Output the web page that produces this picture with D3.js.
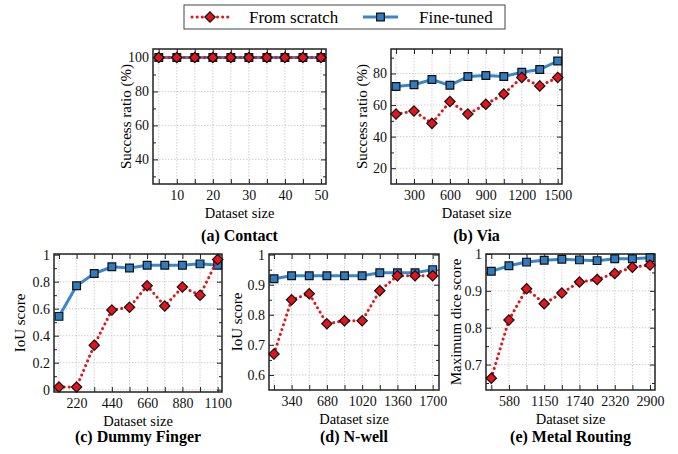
<!DOCTYPE html>
<html>
<head>
<meta charset="utf-8">
<script src="https://cdn.jsdelivr.net/npm/d3@7"></script>
<style>
  body { margin: 0; background: #fff; }
  svg, svg text { font-family: "Liberation Serif", "DejaVu Serif", serif; }
</style>
</head>
<body>
<svg id="chart" width="678" height="454"></svg>
<script>
/* ---------------- data ---------------- */

const contactSizes   = [5, 10, 15, 20, 25, 30, 35, 40, 45, 50];
const contactScratch = [100, 100, 100, 100, 100, 100, 100, 100, 100, 100];
const contactFine    = [100, 100, 100, 100, 100, 100, 100, 100, 100, 100];
const contactTicks   = ["10", "20", "30", "40", "50"];

const viaSizes   = [150, 300, 450, 600, 750, 900, 1050, 1200, 1350, 1500];
const viaScratch = [54.3, 56.2, 48.4, 62.2, 54.3, 60.5, 67.0, 77.5, 72.1, 77.5];
const viaFine    = [71.8, 72.9, 76.2, 72.5, 78.1, 78.7, 78.1, 80.8, 82.5, 87.9];
const viaTicks   = ["300", "600", "900", "1200", "1500"];

const dummySizes   = [110, 220, 330, 440, 550, 660, 770, 880, 990, 1100];
const dummyScratch = [0.02, 0.02, 0.33, 0.59, 0.61, 0.77, 0.62, 0.76, 0.70, 0.965];
const dummyFine    = [0.543, 0.77, 0.86, 0.91, 0.902, 0.922, 0.922, 0.922, 0.932, 0.922];
const dummyTicks   = ["220", "440", "660", "880", "1100"];

const nwellSizes   = [170, 340, 510, 680, 850, 1020, 1190, 1360, 1530, 1700];
const nwellScratch = [0.67, 0.85, 0.87, 0.77, 0.78, 0.78, 0.88, 0.93, 0.93, 0.93];
const nwellFine    = [0.92, 0.93, 0.93, 0.93, 0.93, 0.93, 0.94, 0.94, 0.94, 0.95];
const nwellTicks   = ["340", "680", "1020", "1360", "1700"];

const metalSizes   = [290, 580, 870, 1160, 1450, 1740, 2030, 2320, 2610, 2900];
const metalScratch = [0.663, 0.821, 0.906, 0.865, 0.894, 0.924, 0.931, 0.947, 0.964, 0.970];
const metalFine    = [0.953, 0.968, 0.978, 0.983, 0.986, 0.984, 0.982, 0.987, 0.987, 0.990];
const metalTicks   = ["580", "1150", "1740", "2320", "2900"];

const seriesNames = ["From scratch", "Fine-tuned"];

/* ---------------- layout ---------------- */

const FONT = "'Liberation Serif', 'DejaVu Serif', serif";
const RED = "#e3141c";
const BLUE = "#3a86c8";
const BLUE_FILL = "#2f7cc0";

const svg = d3.select("#chart").attr("font-family", FONT);

const panels = [
    { title: "(a) Contact", ylabel: "Success ratio (%)", sizes: contactSizes, scratch: contactScratch, fine: contactFine,
      labels: contactTicks, box: [153, 49, 173, 135], xd: [3.4, 51.4], yd: [25.5, 105],
      yMajor: [40, 60, 80, 100], yMinor: [30, 50, 70, 90], ylx: 126, titleY: 241 },
    { title: "(b) Via", ylabel: "Success ratio (%)", sizes: viaSizes, scratch: viaScratch, fine: viaFine,
      labels: viaTicks, box: [391, 49, 171, 135], xd: [108, 1536], yd: [10, 95.5],
      yMajor: [20, 40, 60, 80], yMinor: [30, 50, 70, 90], ylx: 362, titleY: 241 },
    { title: "(c) Dummy Finger", ylabel: "IoU score", sizes: dummySizes, scratch: dummyScratch, fine: dummyFine,
      labels: dummyTicks, box: [54, 254, 168, 138], xd: [79, 1127], yd: [-0.017, 1.005],
      yMajor: [0, 0.2, 0.4, 0.6, 0.8, 1], yMinor: [0.1, 0.3, 0.5, 0.7, 0.9], ylx: 20, titleY: 442 },
    { title: "(d) N-well", ylabel: "IoU score", sizes: nwellSizes, scratch: nwellScratch, fine: nwellFine,
      labels: nwellTicks, box: [269, 254, 170, 136], xd: [122, 1761], yd: [0.55, 1.002],
      yMajor: [0.6, 0.7, 0.8, 0.9, 1], yMinor: [0.65, 0.75, 0.85, 0.95], ylx: 237, titleY: 442 },
    { title: "(e) Metal Routing", ylabel: "Maximum dice score", sizes: metalSizes, scratch: metalScratch, fine: metalFine,
      labels: metalTicks, box: [486, 254, 169, 136], xd: [203, 2982], yd: [0.631, 1.0],
      yMajor: [0.7, 0.8, 0.9, 1], yMinor: [0.65, 0.75, 0.85, 0.95], ylx: 456, titleY: 442 }
];

const diamond = d3.symbol().type(d3.symbolDiamond2).size(68);
const square = d3.symbol().type(d3.symbolSquare).size(60);

panels.forEach(drawPanel);

function drawPanel(p) {
    const [bx, by, bw, bh] = p.box;
    const x = d3.scaleLinear().domain(p.xd).range([bx, bx + bw]);
    const y = d3.scaleLinear().domain(p.yd).range([by + bh, by]);
    const g = svg.append("g");

    // label text for each labelled x tick (label strings may differ from the tick value)
    const labelled = p.sizes.filter((s, i) => i % 2 === 1);
    const labelOf = new Map(labelled.map((v, i) => [v, p.labels[i]]));

    // grid
    g.append("g").selectAll("line").data(p.sizes).join("line")
        .attr("x1", d => x(d)).attr("x2", d => x(d))
        .attr("y1", by).attr("y2", by + bh)
        .attr("stroke", "#c4c4c4").attr("stroke-width", 0.8).attr("stroke-dasharray", "1.5,1.5");
    g.append("g").selectAll("line").data(p.yMajor).join("line")
        .attr("x1", bx).attr("x2", bx + bw)
        .attr("y1", d => y(d)).attr("y2", d => y(d))
        .attr("stroke", "#c4c4c4").attr("stroke-width", 0.8).attr("stroke-dasharray", "1.5,1.5");

    // axes, ticks pointing in on all four sides
    const fmt = d3.format("~g");
    const axes = [
        [d3.axisBottom(x).tickValues(p.sizes).tickSize(-5).tickPadding(6).tickFormat(d => labelOf.get(d) || ""), `translate(0,${by + bh})`],
        [d3.axisTop(x).tickValues(p.sizes).tickSize(-5).tickFormat(""), `translate(0,${by})`],
        [d3.axisLeft(y).tickValues(p.yMajor).tickSize(-5).tickPadding(4).tickFormat(fmt), `translate(${bx},0)`],
        [d3.axisRight(y).tickValues(p.yMajor).tickSize(-5).tickFormat(""), `translate(${bx + bw},0)`],
        [d3.axisLeft(y).tickValues(p.yMinor).tickSize(-3).tickFormat(""), `translate(${bx},0)`],
        [d3.axisRight(y).tickValues(p.yMinor).tickSize(-3).tickFormat(""), `translate(${bx + bw},0)`]
    ];
    axes.forEach(([ax, tr]) => {
        const a = g.append("g").attr("transform", tr).call(ax)
            .attr("font-family", FONT).attr("font-size", 14);
        a.select(".domain").remove();
        a.selectAll("line").attr("stroke", "#222").attr("stroke-width", 1);
        a.selectAll("text").attr("fill", "#111");
    });

    g.append("rect").attr("x", bx).attr("y", by).attr("width", bw).attr("height", bh)
        .attr("fill", "none").attr("stroke", "#222").attr("stroke-width", 1.5);

    // series
    const line = d3.line().x((d, i) => x(p.sizes[i])).y(d => y(d));

    g.append("path").datum(p.fine).attr("d", line)
        .attr("fill", "none").attr("stroke", BLUE).attr("stroke-width", 3);
    g.append("g").selectAll("path").data(p.fine).join("path")
        .attr("d", square)
        .attr("transform", (d, i) => `translate(${x(p.sizes[i])},${y(d)})`)
        .attr("fill", BLUE_FILL).attr("stroke", "#111").attr("stroke-width", 1.2);

    g.append("path").datum(p.scratch).attr("d", line)
        .attr("fill", "none").attr("stroke", RED).attr("stroke-width", 3)
        .attr("stroke-dasharray", "0.1,5").attr("stroke-linecap", "round");
    g.append("g").selectAll("path").data(p.scratch).join("path")
        .attr("d", diamond)
        .attr("transform", (d, i) => `translate(${x(p.sizes[i])},${y(d)})`)
        .attr("fill", RED).attr("stroke", "#111").attr("stroke-width", 1.2);

    // labels
    g.append("text").attr("x", bx + bw / 2).attr("y", by + bh + 34)
        .attr("text-anchor", "middle").attr("font-size", 14.5).text("Dataset size");
    g.append("text")
        .attr("transform", `translate(${p.ylx},${by + bh / 2}) rotate(-90)`)
        .attr("text-anchor", "middle").attr("dy", "0.35em").attr("font-size", 15).text(p.ylabel);
    g.append("text").attr("x", bx + bw / 2).attr("y", p.titleY)
        .attr("text-anchor", "middle").attr("font-size", 16).attr("font-weight", "bold").text(p.title);
}

/* ---------------- legend ---------------- */

const legend = svg.append("g");
legend.append("rect").attr("x", 184).attr("y", 5).attr("width", 321).attr("height", 24)
    .attr("fill", "#fff").attr("stroke", "#444").attr("stroke-width", 1);

const legendItems = [
    { name: seriesNames[0], x0: 192, x1: 228, tx: 249, color: RED, dash: "0.1,5", sym: diamond, fill: RED },
    { name: seriesNames[1], x0: 363, x1: 398, tx: 419, color: BLUE, dash: null, sym: square, fill: BLUE_FILL }
];
legendItems.forEach(it => {
    legend.append("line").attr("x1", it.x0).attr("x2", it.x1).attr("y1", 17).attr("y2", 17)
        .attr("stroke", it.color).attr("stroke-width", 3)
        .attr("stroke-dasharray", it.dash).attr("stroke-linecap", it.dash ? "round" : "butt");
    legend.append("path").attr("d", it.sym)
        .attr("transform", `translate(${(it.x0 + it.x1) / 2},17)`)
        .attr("fill", it.fill).attr("stroke", "#111").attr("stroke-width", 1.2);
    legend.append("text").attr("x", it.tx).attr("y", 17).attr("dy", "0.35em")
        .attr("font-size", 17).text(it.name);
});
</script>
</body>
</html>
